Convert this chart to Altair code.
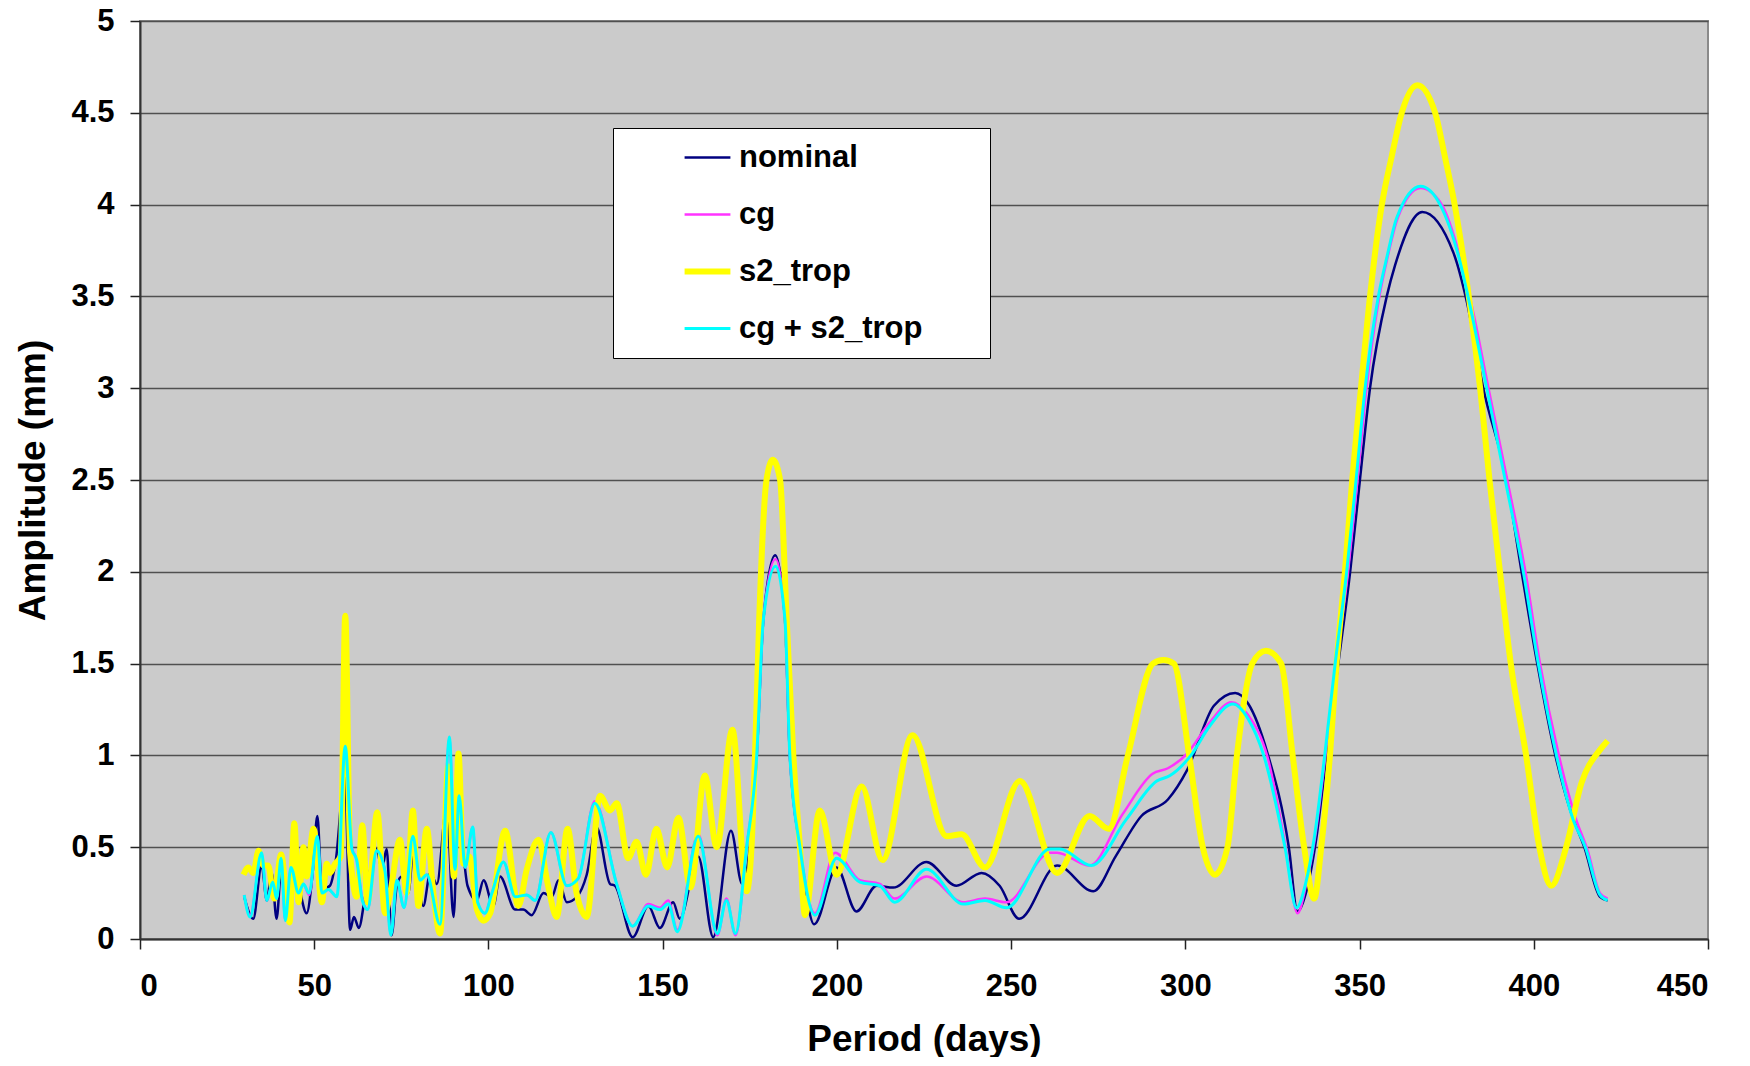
import altair as alt
import pandas as pd

# ---------------- data ----------------
series_names = ["nominal", "cg", "s2_trop", "cg + s2_trop"]
series_colors = ["#000080", "#FF33FF", "#FFFF00", "#00FFFF"]
series_widths = [2.5, 2.5, 6, 3]

nominal_period = [29.9, 32.5, 34.9, 36.4, 37.8, 39.2, 40.7, 41.9, 43.5, 45.5, 47.8, 49.5, 50.9, 52.2, 54.5, 56.2,
                  58.8, 60.3, 61.4, 62.8, 64.6, 67.9, 69.4, 70.8, 72.2, 73.7, 75.1, 77.0, 78.5, 81.3, 83.3, 85.2,
                  88.0, 90.0, 91.4, 92.8, 94.0, 96.7, 98.6, 101.4, 103.3, 107.7, 110.0, 112.4, 115.8, 118.2, 120.1,
                  122.5, 125.4, 128.2, 131.0, 134.9, 136.3, 141.4, 145.9, 149.2, 153.0, 154.9, 160.2, 164.5, 169.6,
                  172.8, 175.5, 177.0, 178.9, 182.3, 185.1, 186.5, 189.4, 193.5, 199.9, 205.6, 211.4, 216.2, 225.7,
                  234.3, 241.5, 246.7, 252.3, 263.2, 273.6, 280.0, 287.4, 295.0, 300.5, 308.2, 314.3, 318.1, 323.6,
                  329.7, 332.2, 335.0, 337.6, 340.5, 343.9, 347.3, 350.1, 353.0, 357.8, 360.2, 368.0, 376.9, 380.8,
                  385.5, 392.2, 396.5, 401.0, 406.2, 410.5, 414.5, 419.0, 421.2]
nominal_amp = [0.23, 0.11, 0.40, 0.21, 0.36, 0.11, 0.43, 0.10, 0.39, 0.29, 0.14, 0.35, 0.67, 0.27, 0.29, 0.43,
               0.90, 0.05, 0.12, 0.06, 0.23, 0.49, 0.38, 0.49, 0.02, 0.29, 0.34, 0.25, 0.49, 0.18, 0.36, 0.30,
               0.72, 0.12, 0.76, 0.47, 0.29, 0.21, 0.32, 0.18, 0.34, 0.16, 0.16, 0.13, 0.25, 0.23, 0.32,
               0.20, 0.23, 0.35, 0.61, 0.30, 0.29, 0.01, 0.18, 0.06, 0.20, 0.11, 0.45, 0.01, 0.59,
               0.30, 0.60, 1.00, 1.74, 2.09, 1.74, 1.00, 0.50, 0.08, 0.39, 0.15, 0.29, 0.28, 0.42,
               0.29, 0.36, 0.29, 0.11, 0.40, 0.26, 0.45, 0.67, 0.76, 0.92, 1.27, 1.34, 1.28, 1.01,
               0.50, 0.15, 0.28, 0.55, 1.00, 1.50, 2.00, 2.50, 3.00, 3.50, 3.67, 3.96, 3.74, 3.47,
               3.00, 2.50, 2.00, 1.50, 1.00, 0.70, 0.50, 0.23, 0.21]

cg_period = [29.9, 31.6, 34.9, 36.4, 38.1, 39.2, 40.5, 41.7, 43.3, 45.5, 46.9, 48.5, 50.9, 52.2, 54.1, 56.5,
             58.9, 60.8, 62.2, 63.8, 65.3, 67.9, 70.3, 72.0, 73.7, 75.8, 78.3, 80.4, 82.3, 86.1, 88.8, 90.4,
             91.6, 93.3, 95.5, 96.9, 99.0, 101.0, 104.3, 107.7, 111.0, 113.4, 117.9, 122.5, 125.8, 130.5,
             136.8, 141.4, 145.9, 149.2, 151.6, 154.2, 160.2, 165.7, 168.3, 170.9, 174.1, 177.0, 178.9,
             182.4, 185.1, 186.5, 189.4, 193.7, 199.5, 206.6, 212.3, 216.6, 225.7, 236.3, 242.5, 248.7,
             261.1, 263.2, 272.5, 282.0, 290.6, 295.0, 300.5, 307.0, 313.2, 318.0, 323.6, 328.8, 332.2,
             334.7, 337.2, 340.2, 343.3, 346.7, 349.4, 352.0, 355.7, 358.0, 361.0, 367.5, 373.6, 378.9,
             382.2, 387.0, 392.4, 397.6, 401.8, 407.2, 412.0, 415.5, 419.0, 421.2]
cg_amp = [0.24, 0.13, 0.46, 0.21, 0.31, 0.22, 0.44, 0.10, 0.38, 0.26, 0.30, 0.24, 0.56, 0.25, 0.27, 0.23,
          1.04, 0.50, 0.43, 0.22, 0.16, 0.48, 0.37, 0.03, 0.32, 0.17, 0.56, 0.32, 0.35, 0.08, 1.10, 0.38,
          0.78, 0.39, 0.61, 0.20, 0.14, 0.25, 0.42, 0.23, 0.24, 0.21, 0.58, 0.29, 0.33, 0.75,
          0.30, 0.07, 0.19, 0.17, 0.21, 0.05, 0.57, 0.02, 0.22, 0.02, 0.50, 1.00, 1.74,
          2.07, 1.74, 1.00, 0.50, 0.14, 0.47, 0.32, 0.30, 0.22, 0.34, 0.20, 0.22, 0.20,
          0.47, 0.47, 0.40, 0.68, 0.90, 0.93, 1.01, 1.18, 1.29, 1.22, 0.99, 0.50, 0.14,
          0.30, 0.55, 1.00, 1.50, 2.00, 2.50, 3.00, 3.50, 3.71, 3.93, 4.09, 4.00, 3.71,
          3.45, 3.00, 2.50, 2.00, 1.50, 1.00, 0.66, 0.48, 0.25, 0.22]

s2_period = [29.7, 31.1, 32.5, 34.0, 35.4, 36.8, 38.5, 40.5, 42.9, 44.3, 45.5, 46.9, 47.8, 49.8, 52.2, 53.6,
             54.5, 56.0, 57.6, 58.9, 60.3, 62.2, 63.8, 65.3, 68.1, 70.3, 71.8, 74.6, 76.5, 78.3, 79.9, 82.3,
             84.2, 86.1, 88.5, 90.1, 91.4, 92.8, 94.5, 96.7, 98.6, 100.5, 104.8, 108.6, 111.0, 114.4, 117.0,
             119.6, 122.7, 125.3, 128.2, 132.0, 134.9, 136.8, 140.1, 142.5, 145.2, 148.2, 151.3, 154.5,
             158.0, 162.1, 165.5, 170.0, 174.1, 175.5, 176.5, 177.7, 179.8, 181.6, 183.7, 185.6, 187.5,
             189.4, 190.8, 195.1, 199.9, 207.1, 213.1, 221.7, 231.5, 235.8, 242.5, 252.5, 263.2, 272.5,
             278.0, 283.5, 290.7, 293.7, 296.7, 301.1, 305.0, 308.5, 312.1, 314.8, 319.2, 323.1, 327.5,
             330.8, 334.1, 337.0, 339.0, 341.5, 343.4, 345.8, 347.9, 350.4, 353.0, 356.4, 359.2, 362.1,
             366.6, 371.7, 374.5, 377.1, 381.7, 384.6, 387.3, 390.3, 393.4, 397.8, 401.6, 405.0, 409.3,
             413.7, 419.0, 421.2]
s2_amp = [0.35, 0.39, 0.36, 0.48, 0.40, 0.40, 0.22, 0.46, 0.09, 0.63, 0.20, 0.50, 0.34, 0.60, 0.20, 0.41,
          0.36, 0.41, 0.45, 1.76, 0.47, 0.23, 0.62, 0.20, 0.69, 0.14, 0.25, 0.54, 0.25, 0.70, 0.18, 0.60,
          0.25, 0.03, 0.94, 0.34, 1.01, 0.41, 0.45, 0.16, 0.10, 0.14, 0.59, 0.18, 0.38, 0.54, 0.30,
          0.12, 0.60, 0.25, 0.12, 0.78, 0.70, 0.74, 0.44, 0.53, 0.35, 0.60, 0.39, 0.66,
          0.28, 0.89, 0.50, 1.14, 0.26, 0.50, 1.00, 1.74, 2.50, 2.61, 2.50, 1.74, 1.00,
          0.50, 0.13, 0.70, 0.35, 0.83, 0.43, 1.11, 0.56, 0.57, 0.39, 0.86, 0.36, 0.67,
          0.60, 1.00, 1.50, 1.52, 1.50, 1.00, 0.50, 0.35, 0.50, 1.00, 1.50, 1.57, 1.50,
          1.00, 0.50, 0.22, 0.50, 1.00, 1.50, 2.00, 2.50, 3.00, 3.50, 4.00, 4.26, 4.50,
          4.65, 4.50, 4.26, 4.02, 3.45, 3.00, 2.50, 2.00, 1.50, 1.00, 0.50, 0.29, 0.50,
          0.85, 1.03, 1.08]

cgs2_period = [29.9, 31.6, 34.9, 36.4, 38.1, 39.2, 40.5, 41.7, 43.3, 45.5, 46.9, 48.5, 50.9, 52.2, 54.1, 56.5,
               58.9, 60.8, 62.2, 63.8, 65.3, 67.9, 70.3, 72.0, 73.7, 75.8, 78.3, 80.4, 82.3, 86.1, 88.8, 90.4,
               91.6, 93.3, 95.5, 96.9, 99.0, 101.0, 104.3, 107.7, 111.0, 113.4, 117.9, 122.5, 125.8, 130.5,
               136.8, 141.4, 145.9, 149.2, 151.6, 154.2, 160.2, 165.7, 168.3, 170.9, 174.1, 177.0, 178.9,
               182.4, 185.1, 186.5, 189.4, 193.7, 199.9, 206.6, 212.3, 216.6, 225.7, 236.3, 242.5, 248.7,
               261.1, 264.0, 273.0, 283.0, 291.8, 295.6, 301.6, 307.0, 313.7, 318.0, 322.5, 328.6, 331.9,
               334.5, 337.0, 340.0, 343.0, 346.3, 349.0, 351.6, 355.4, 357.8, 360.7, 367.5, 373.1, 378.4,
               381.7, 386.5, 391.8, 397.0, 401.3, 406.5, 411.3, 414.8, 419.0, 421.2]
cgs2_amp = [0.24, 0.12, 0.47, 0.21, 0.31, 0.22, 0.44, 0.10, 0.39, 0.25, 0.30, 0.25, 0.56, 0.25, 0.27, 0.23,
            1.05, 0.49, 0.43, 0.21, 0.16, 0.48, 0.37, 0.02, 0.32, 0.17, 0.56, 0.32, 0.35, 0.08, 1.10, 0.38,
            0.78, 0.39, 0.61, 0.20, 0.14, 0.25, 0.42, 0.23, 0.24, 0.21, 0.58, 0.29, 0.33, 0.74,
            0.30, 0.07, 0.18, 0.16, 0.19, 0.04, 0.56, 0.03, 0.21, 0.03, 0.50, 1.00, 1.74,
            2.03, 1.74, 1.00, 0.50, 0.13, 0.44, 0.31, 0.29, 0.20, 0.38, 0.19, 0.21, 0.17,
            0.49, 0.49, 0.40, 0.65, 0.86, 0.89, 1.00, 1.16, 1.28, 1.20, 1.00, 0.50, 0.17,
            0.30, 0.55, 1.00, 1.50, 2.00, 2.50, 3.00, 3.50, 3.71, 3.93, 4.10, 4.00, 3.72,
            3.45, 3.00, 2.50, 2.00, 1.50, 1.00, 0.65, 0.50, 0.24, 0.21]

x_ticks = [0, 50, 100, 150, 200, 250, 300, 350, 400, 450]
y_ticks = [0, 0.5, 1, 1.5, 2, 2.5, 3, 3.5, 4, 4.5, 5]

FONT = "Liberation Sans"

periods = [nominal_period, cg_period, s2_period, cgs2_period]
amps = [nominal_amp, cg_amp, s2_amp, cgs2_amp]

color_scale = alt.Scale(domain=series_names, range=series_colors)

legend = alt.Legend(
    title=" ", titleOrient="right", titlePadding=54, titleFontSize=8,
    orient="none", legendX=473, legendY=107,
    fillColor="white", strokeColor="black", padding=14,
    symbolType="stroke", symbolSize=2100, symbolOffset=65,
    symbolStrokeWidth={"expr": "datum.value == 's2_trop' ? 6 : (datum.value == 'cg + s2_trop' ? 3 : 2.5)"},
    labelFont=FONT, labelFontSize=31, labelFontWeight="bold", labelColor="black",
    labelOffset=16, rowPadding=25, labelLimit=600,
)

layers = []
for name, p, a, w in zip(series_names, periods, amps, series_widths):
    df = pd.DataFrame({"period": p, "amplitude": a, "series": name})
    layers.append(
        alt.Chart(df).mark_line(interpolate="monotone", strokeWidth=w).encode(
            x=alt.X("period:Q", scale=alt.Scale(domain=[0, 450], nice=False),
                    axis=alt.Axis(values=x_ticks, title="Period (days)", grid=False, format="d")),
            y=alt.Y("amplitude:Q", scale=alt.Scale(domain=[0, 5], nice=False),
                    axis=alt.Axis(values=y_ticks, title="Amplitude (mm)", format="~g")),
            color=alt.Color("series:N", scale=color_scale, legend=legend, sort=series_names),
        )
    )

chart = alt.layer(*layers).properties(
    width=1568, height=918,
    autosize=alt.AutoSizeParams(type="none"),
    padding={"left": 132, "top": 13, "right": 34, "bottom": 118},
    title=alt.TitleParams("(cycles 11-854)", font=FONT, fontSize=37, fontWeight="bold",
                          color="black", offset=2, dx=-14, baseline="alphabetic"),
).configure_view(
    fill="#CBCBCB", stroke="#8A8A8A", strokeWidth=2
).configure_axis(
    labelFont=FONT, labelFontSize=31, labelFontWeight="bold", labelColor="black",
    titleFont=FONT, titleFontSize=37, titleFontWeight="bold", titleColor="black",
    tickColor="#222222", tickSize=10, tickWidth=1.5,
    domainColor="#333333", domainWidth=2,
    gridColor="#505050", gridWidth=1.6,
).configure_axisX(
    labelPadding=22, titlePadding=20
).configure_axisY(
    labelPadding=16, titlePadding=18
)

chart.save("out.html", embed_options={"renderer": "svg", "actions": False})
